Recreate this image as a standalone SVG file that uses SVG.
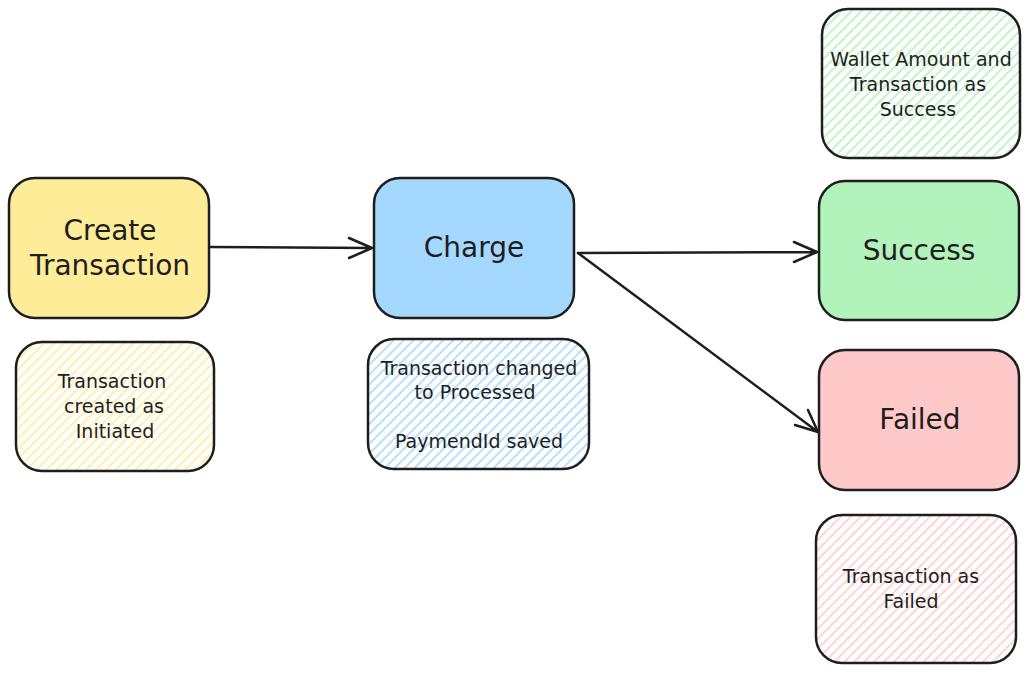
<svg xmlns="http://www.w3.org/2000/svg" width="1032" height="674" viewBox="0 0 1032 674">
<style>
.box{stroke:#1e1e1e;stroke-width:2.5;stroke-linejoin:round}
.t{font-family:"DejaVu Sans","Liberation Sans",sans-serif;fill:#1e1e1e;text-anchor:middle}
.big{font-size:28px}
.sm{font-size:19px}
.edge{fill:none;stroke:#1e1e1e;stroke-width:2.5;stroke-linecap:round;stroke-linejoin:round}
</style>
<defs>
<pattern id="hy" width="7" height="7" patternUnits="userSpaceOnUse" patternTransform="rotate(45)"><line x1="1" y1="0" x2="1" y2="7" stroke="#ffec99" stroke-width="1.6"/></pattern>
<pattern id="hb" width="7" height="7" patternUnits="userSpaceOnUse" patternTransform="rotate(45)"><line x1="1" y1="0" x2="1" y2="7" stroke="#a5d8ff" stroke-width="1.6"/></pattern>
<pattern id="hg" width="7" height="7" patternUnits="userSpaceOnUse" patternTransform="rotate(45)"><line x1="1" y1="0" x2="1" y2="7" stroke="#b2f2bb" stroke-width="1.6"/></pattern>
<pattern id="hr" width="7" height="7" patternUnits="userSpaceOnUse" patternTransform="rotate(45)"><line x1="1" y1="0" x2="1" y2="7" stroke="#ffc9c9" stroke-width="1.6"/></pattern>
</defs>
<rect width="1032" height="674" fill="#ffffff"/>
<g id="connectors">
<path class="edge" d="M209 247 L372 248 M349 238 L372 248 L349 258"/>
<path class="edge" d="M578 253 L817 252 M794 242 L817 252 L794 262"/>
<path class="edge" d="M578 253 L818 432 M795 425 L818 432 L808 410"/>
</g>
<g id="create">
<rect class="box" x="9" y="178" width="200" height="140" rx="26" fill="#ffec99"/>
<text class="t big" x="110" y="240">Create</text>
<text class="t big" x="110" y="275">Transaction</text>
</g>
<g id="note-create">
<rect class="box" x="16" y="342" width="198" height="129" rx="26" fill="url(#hy)"/>
<text class="t sm" x="112" y="388">Transaction</text>
<text class="t sm" x="114" y="413">created as</text>
<text class="t sm" x="115" y="438">Initiated</text>
</g>
<g id="charge">
<rect class="box" x="374" y="178" width="200" height="140" rx="26" fill="#a5d8ff"/>
<text class="t big" x="474" y="257">Charge</text>
</g>
<g id="note-charge">
<rect class="box" x="368" y="339" width="221" height="130" rx="26" fill="url(#hb)"/>
<text class="t sm" x="479" y="375">Transaction changed</text>
<text class="t sm" x="475" y="399">to Processed</text>
<text class="t sm" x="479" y="448">PaymendId saved</text>
</g>
<g id="note-success">
<rect class="box" x="822" y="9" width="198" height="149" rx="26" fill="url(#hg)"/>
<text class="t sm" x="921" y="66">Wallet Amount and</text>
<text class="t sm" x="918" y="91">Transaction as</text>
<text class="t sm" x="918" y="116">Success</text>
</g>
<g id="success">
<rect class="box" x="819" y="181" width="200" height="139" rx="26" fill="#b2f2bb"/>
<text class="t big" x="919" y="260">Success</text>
</g>
<g id="failed">
<rect class="box" x="819" y="350" width="200" height="140" rx="26" fill="#ffc9c9"/>
<text class="t big" x="920" y="429">Failed</text>
</g>
<g id="note-failed">
<rect class="box" x="816" y="515" width="200" height="148" rx="26" fill="url(#hr)"/>
<text class="t sm" x="911" y="583">Transaction as</text>
<text class="t sm" x="911" y="608">Failed</text>
</g>
</svg>
